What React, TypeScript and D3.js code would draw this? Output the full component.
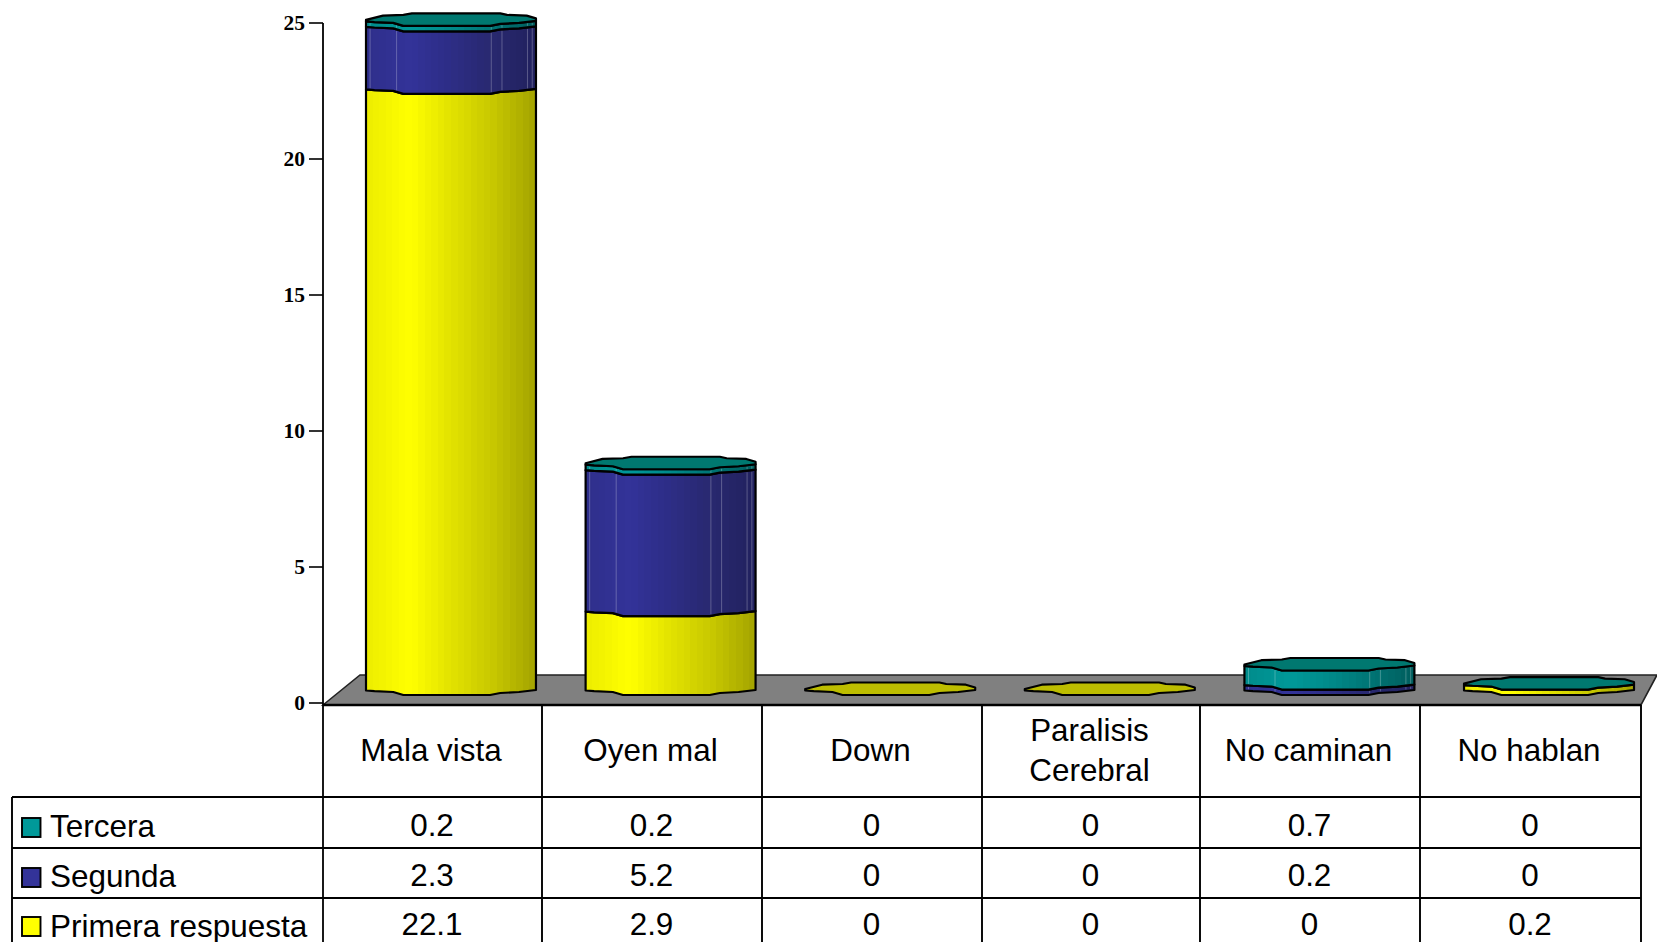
import React from "react";
import * as d3 from "d3";

const categories = ["Mala vista", "Oyen mal", "Down", "Paralisis\nCerebral", "No caminan", "No hablan"];
const primera = [22.1, 2.9, 0, 0, 0, 0.2];
const segunda = [2.3, 5.2, 0, 0, 0.2, 0];
const tercera = [0.2, 0.2, 0, 0, 0.7, 0];
const tickValues = [0, 5, 10, 15, 20, 25];

const seriesList = [
  { id: "primera", name: "Primera respuesta", values: primera, color: "#ffff00", ramp: ["#eeee00", "#ffff00", "#e2e200", "#c8c800", "#a6a600"] },
  { id: "segunda", name: "Segunda", values: segunda, color: "#333399", ramp: ["#2f2f8c", "#333399", "#2d2d85", "#28286f", "#222260"] },
  { id: "tercera", name: "Tercera", values: tercera, color: "#009999", ramp: ["#008c8c", "#009999", "#008a8a", "#007474", "#005f5f"] },
];

const frontProfile: [number, number][] = [[0, 0], [0.05, 0.7], [0.16, 1.5], [0.22, 4.5], [0.73, 4.5], [0.79, 2.5], [0.9, 1.5], [1, -0.5]];
const backProfile: [number, number][] = [[0, -1.5], [0.1, -5.8], [0.22, -6.5], [0.27, -8], [0.79, -8], [0.83, -6.5], [0.945, -5.8], [1, -3]];
const facetLines = [0.024, 0.18, 0.737, 0.8, 0.95, 0.978];

const x = d3.scaleBand<string>().domain(categories).range([366, 1634]).paddingInner(0.226).paddingOuter(0);
const y = d3.scaleLinear().domain([0, 25]).range([703, 23]);
const SIDE = 12.5;
const sideY = (v: number) => y(v) - SIDE;

const colEdges = [323, 542, 762, 982, 1200, 1420, 1641];
const rowEdges = [705, 797, 848, 898];
const rowText = [837, 887, 937];
const keyY = [818, 868, 917];
const FONT = "'Liberation Sans', Arial, sans-serif";

function profilePoints(x0: number, w: number, yBase: number, prof: [number, number][]) {
  const u = d3.scaleLinear().domain([0, 1]).range([x0, x0 + w]);
  return prof.map(([a, b]) => [u(a), yBase + b] as [number, number]);
}
const line = d3.line();
const frontAt = d3.scaleLinear().domain(frontProfile.map((p) => p[0])).range(frontProfile.map((p) => p[1]));

function wallPath(x0: number, w: number, y0: number, y1: number) {
  const bottom = profilePoints(x0, w, y0, frontProfile);
  const top = profilePoints(x0, w, y1, frontProfile).reverse();
  return line([...bottom, ...top])! + "Z";
}
function capPath(x0: number, w: number, yy: number) {
  const back = profilePoints(x0, w, yy, backProfile);
  const front = profilePoints(x0, w, yy, frontProfile).reverse();
  return line([...back, ...front])! + "Z";
}

function Bar({ cat, i }: { cat: string; i: number }) {
  const x0 = x(cat)!;
  const w = x.bandwidth();
  let acc = 0;
  const total = d3.sum(seriesList, (s) => s.values[i]);
  const walls: React.ReactNode[] = [];
  seriesList.forEach((s) => {
    const v = s.values[i];
    if (v <= 0) return;
    const y0 = sideY(acc);
    const y1 = sideY(acc + v);
    acc += v;
    walls.push(
      <g key={s.id}>
        <path d={wallPath(x0, w, y0, y1)} fill={`url(#grad-${s.id})`} stroke="#000" strokeWidth={2.2} strokeLinejoin="round" />
        {s.id !== "primera" &&
          facetLines.map((f) => {
            const px = x0 + f * w;
            const top = y1 + frontAt(f) + 1.5;
            const bot = y0 + frontAt(f) - 1.5;
            return bot > top ? <line key={f} x1={px} x2={px} y1={top} y2={bot} stroke="#fff" strokeOpacity={0.25} strokeWidth={1} /> : null;
          })}
      </g>
    );
  });
  const capFill = total > 0 ? "#007870" : "#bdbd00";
  return (
    <g>
      {walls}
      <path d={capPath(x0, w, sideY(acc))} fill={capFill} stroke="#000" strokeWidth={2.2} strokeLinejoin="round" />
    </g>
  );
}

export default function App() {
  const n = 26;
  return (
    <svg width={1657} height={942} viewBox="0 0 1657 942" style={{ position: "absolute", left: 0, top: 0, display: "block", background: "#fff" }}>
      <defs>
        {seriesList.map((s) => {
          const interp = d3.piecewise(d3.interpolateRgb, s.ramp);
          return (
            <linearGradient id={`grad-${s.id}`} key={s.id} x1="0" x2="1" y1="0" y2="0">
              {d3.range(n).flatMap((k) => [
                <stop key={k + "a"} offset={k / n} stopColor={interp(k / (n - 1))} />,
                <stop key={k + "b"} offset={(k + 1) / n} stopColor={interp(k / (n - 1))} />,
              ])}
            </linearGradient>
          );
        })}
      </defs>

      <polygon points="323,705 360,675 1657,675 1641,705" fill="#808080" stroke="#222" strokeWidth={1.6} />

      {/* y axis */}
      <line x1={323} x2={323} y1={y(25)} y2={942} stroke="#000" strokeWidth={1.8} />
      {tickValues.map((t) => (
        <g key={t}>
          <line x1={309} x2={323} y1={y(t)} y2={y(t)} stroke="#000" strokeWidth={1.6} />
          <text x={305} y={y(t) + 7} textAnchor="end" fontFamily="'Liberation Serif', 'Times New Roman', serif" fontWeight="bold" fontSize={21.5} fill="#000">
            {t}
          </text>
        </g>
      ))}

      {categories.map((c, i) => (
        <Bar key={c} cat={c} i={i} />
      ))}

      {/* table grid */}
      <line x1={323} x2={1641} y1={rowEdges[0]} y2={rowEdges[0]} stroke="#000" strokeWidth={2.4} />
      {rowEdges.slice(1).map((r) => (
        <line key={r} x1={12} x2={1641} y1={r} y2={r} stroke="#000" strokeWidth={1.9} />
      ))}
      <line x1={12} x2={12} y1={rowEdges[1]} y2={942} stroke="#000" strokeWidth={1.9} />
      {colEdges.slice(1).map((c) => (
        <line key={c} x1={c} x2={c} y1={705} y2={942} stroke="#000" strokeWidth={1.9} />
      ))}

      {/* category labels */}
      {categories.map((c, i) => {
        const cx = (colEdges[i] + colEdges[i + 1]) / 2 - 1.5;
        const parts = c.split("\n");
        return (
          <text key={c} textAnchor="middle" fontFamily={FONT} fontSize={31.4} fill="#000">
            {parts.map((p, k) => (
              <tspan key={p} x={cx} y={parts.length === 1 ? 761 : 741 + k * 40}>
                {p}
              </tspan>
            ))}
          </text>
        );
      })}

      {/* table rows, top to bottom */}
      {[...seriesList].reverse().map((s, r) => (
        <g key={s.id}>
          <rect x={22} y={keyY[r]} width={18.5} height={19} fill={s.color} stroke="#000" strokeWidth={1.9} />
          <text x={50} y={rowText[r]} fontFamily={FONT} fontSize={31.5} fill="#000">
            {s.name}
          </text>
          {s.values.map((v, i) => (
            <text key={i} x={(colEdges[i] + colEdges[i + 1]) / 2 - 0.5} y={[836, 886, 935][r]} textAnchor="middle" fontFamily={FONT} fontSize={31.4} fill="#000">
              {v}
            </text>
          ))}
        </g>
      ))}
    </svg>
  );
}
